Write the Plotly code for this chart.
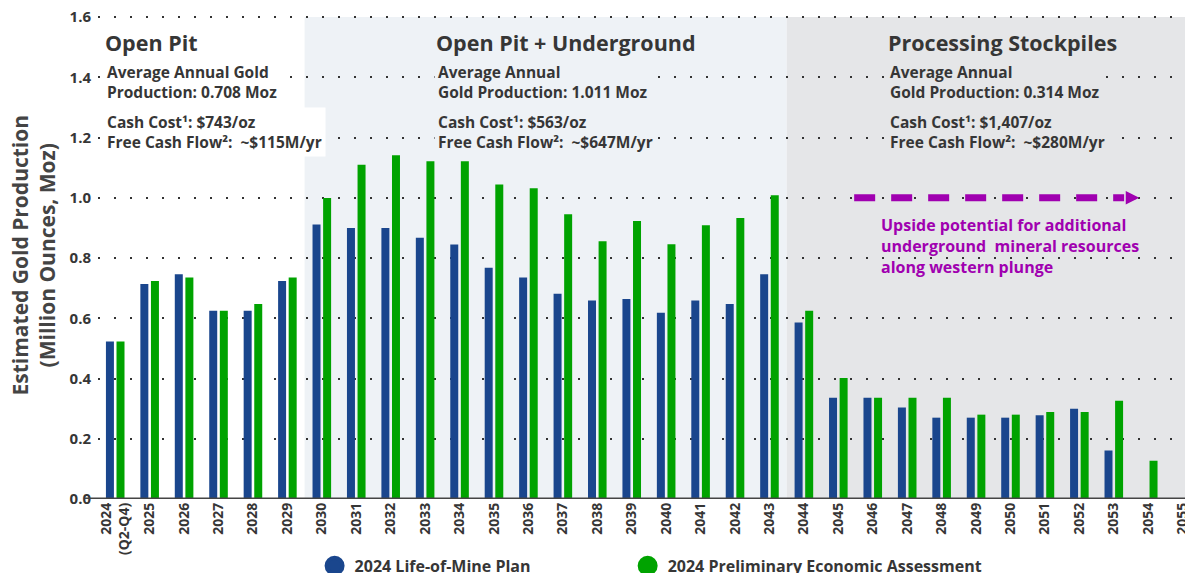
import plotly.graph_objects as go

years = ["2024<br>(Q2-Q4)"] + [str(y) for y in range(2025, 2056)]
lom_plan = [0.523, 0.714, 0.746, 0.625, 0.625, 0.724, 0.911, 0.900, 0.900, 0.867,
            0.845, 0.768, 0.735, 0.681, 0.659, 0.664, 0.618, 0.659, 0.647, 0.746,
            0.586, 0.336, 0.336, 0.304, 0.270, 0.270, 0.270, 0.278, 0.300, 0.161,
            None, None]
pea = [0.523, 0.724, 0.735, 0.625, 0.647, 0.735, 0.999, 1.110, 1.141, 1.121,
       1.121, 1.044, 1.032, 0.945, 0.856, 0.923, 0.846, 0.909, 0.933, 1.008,
       0.625, 0.402, 0.336, 0.336, 0.336, 0.280, 0.280, 0.289, 0.289, 0.326,
       0.127, None]
series_names = ["2024 Life-of-Mine Plan", "2024 Preliminary Economic Assessment"]
y_ticks = [0.0, 0.2, 0.4, 0.6, 0.8, 1.0, 1.2, 1.4, 1.6]

BLUE = "#1a468d"
GREEN = "#00a300"
PURPLE = "#a000b0"
TXT = "#363636"
FONT = "Open Sans"

fig = go.Figure()
fig.add_trace(go.Bar(x=years, y=lom_plan, name=series_names[0], marker_color=BLUE,
                     marker_line_width=0, showlegend=False))
fig.add_trace(go.Bar(x=years, y=pea, name=series_names[1], marker_color=GREEN,
                     marker_line_width=0, showlegend=False))
# legend entries (round markers), one legend each
for nm, col, lg in zip(series_names, [BLUE, GREEN], ["legend", "legend2"]):
    fig.add_trace(go.Scatter(x=[None], y=[None], mode="markers", name=nm, legend=lg,
                             marker=dict(symbol="circle", size=16, color=col,
                                         line=dict(color=col, width=4))))

# background region shading
fig.add_shape(type="rect", xref="x", yref="y", x0=5.5, x1=19.5, y0=0, y1=1.6,
              fillcolor="#eef2f6", line_width=0, layer="below")
fig.add_shape(type="rect", xref="x", yref="y", x0=19.5, x1=31.3, y0=0, y1=1.6,
              fillcolor="#e5e6e8", line_width=0, layer="below")
# baseline
fig.add_shape(type="line", xref="paper", yref="y", x0=-0.012, x1=1, y0=0, y1=0,
              line=dict(color="#444444", width=3), layer="above")

# upside arrow (dashed)
fig.add_shape(type="line", xref="x", yref="y", x0=21.46, x1=29.3, y0=1.0, y1=1.0,
              line=dict(color=PURPLE, width=7, dash="21px,16px"), layer="above")
fig.add_annotation(x=29.74, y=1.0, ax=29.45, ay=1.0, xref="x", yref="y", axref="x", ayref="y",
                   showarrow=True, arrowhead=2, arrowsize=0.9, arrowwidth=3,
                   arrowcolor=PURPLE, text="")
fig.add_annotation(x=22.19, y=0.84, xref="x", yref="y", xanchor="left", yanchor="middle",
                   align="left", showarrow=False,
                   text="Upside potential for additional<br>underground  mineral resources<br>along western plunge",
                   font=dict(family=FONT, size=16, color=PURPLE, weight="bold"))

blocks = [
    (-0.35, "white", "Open Pit",
     "Average Annual Gold<br>Production: 0.708 Moz",
     "Cash Cost¹: $743/oz<br>Free Cash Flow²:  ~$115M/yr"),
    (9.27, "#eef2f6", "Open Pit + Underground",
     "Average Annual<br>Gold Production: 1.011 Moz",
     "Cash Cost¹: $563/oz<br>Free Cash Flow²:  ~$647M/yr"),
    (22.37, "#e5e6e8", "Processing Stockpiles",
     "Average Annual<br>Gold Production: 0.314 Moz",
     "Cash Cost¹: $1,407/oz<br>Free Cash Flow²:  ~$280M/yr"),
]
for xpos, bg, head, l1, l2 in blocks:
    fig.add_annotation(x=xpos, y=1.514, xref="x", yref="y", xanchor="left", yanchor="middle",
                       showarrow=False, text=head, align="left",
                       font=dict(family=FONT, size=21.5, color=TXT, weight="bold"))
    fig.add_annotation(x=xpos, y=1.383, xref="x", yref="y", xanchor="left", yanchor="middle",
                       showarrow=False, text=l1, align="left", bgcolor=bg, borderpad=3,
                       font=dict(family=FONT, size=15.5, color=TXT, weight="bold"))
    fig.add_annotation(x=xpos, y=1.217, xref="x", yref="y", xanchor="left", yanchor="middle",
                       showarrow=False, text=l2, align="left", bgcolor=bg, borderpad=3,
                       font=dict(family=FONT, size=15.5, color=TXT, weight="bold"))

# y axis title
fig.add_annotation(x=-0.0598, y=0.5, xref="paper", yref="paper", textangle=-90,
                   xanchor="center", yanchor="middle", showarrow=False,
                   text="Estimated Gold Production<br>(Million Ounces, Moz)",
                   font=dict(family=FONT, size=21, color="#444444", weight="bold"))

legend_common = dict(orientation="h", y=-0.137, xanchor="left", yanchor="middle",
                     font=dict(family=FONT, size=16, color=TXT, weight="bold"),
                     bgcolor="rgba(0,0,0,0)")
fig.update_layout(
    width=1193, height=573,
    margin=dict(l=90, r=8, t=3, b=82, autoexpand=False),
    paper_bgcolor="white", plot_bgcolor="rgba(0,0,0,0)",
    barmode="group", bargap=0.385, bargroupgap=0.245,
    font=dict(family=FONT, color=TXT),
    legend=dict(x=0.1978, **legend_common),
    legend2=dict(x=0.4837, **legend_common),
)
fig.update_xaxes(type="category", range=[-0.5, 31.3], showgrid=False, zeroline=False,
                 showline=False, ticks="", tickangle=-90, ticklabeloverflow="allow",
                 tickfont=dict(family=FONT, size=14, color=TXT, weight="bold"))
fig.update_yaxes(range=[0, 1.62], tickvals=y_ticks, ticktext=[f"{v:.1f}" for v in y_ticks],
                 showgrid=True, gridcolor="#333333", gridwidth=2, griddash="2px,14px",
                 zeroline=False, showline=False, ticks="", ticklabelstandoff=6,
                 ticklabeloverflow="allow",
                 tickfont=dict(family=FONT, size=15, color=TXT, weight="bold"))

fig.write_html("out.html")
